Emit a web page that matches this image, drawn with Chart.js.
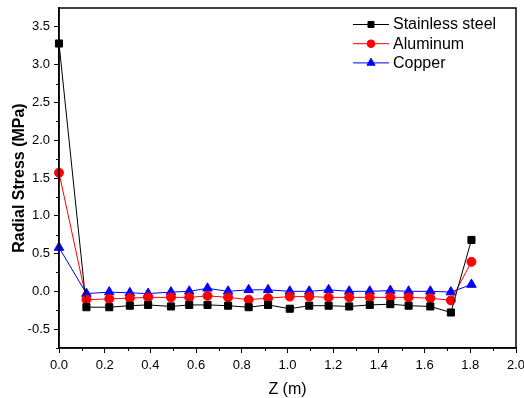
<!DOCTYPE html>
<html>
<head>
<meta charset="utf-8">
<script src="https://cdn.jsdelivr.net/npm/chart.js@4.4.1/dist/chart.umd.min.js"></script>
<style>
  html, body { margin: 0; padding: 0; background: #fff; }
</style>
</head>
<body>
<canvas id="mycanvas" width="524" height="398"></canvas>
<script>
// Z position along the part (m)
const zPos = [0, 0.12, 0.22, 0.31, 0.39, 0.49, 0.57, 0.65, 0.74, 0.83, 0.915, 1.01, 1.095, 1.18, 1.27, 1.36, 1.45, 1.53, 1.625, 1.715, 1.805];

// radial stress (MPa) for each material
const steel    = [3.28, -0.21, -0.21, -0.19, -0.18, -0.20, -0.18, -0.18, -0.19, -0.21, -0.18, -0.23, -0.19, -0.19, -0.20, -0.18, -0.17, -0.19, -0.20, -0.28, 0.68];
const aluminum = [1.57, -0.11, -0.10, -0.09, -0.08, -0.08, -0.08, -0.06, -0.08, -0.11, -0.09, -0.07, -0.07, -0.08, -0.08, -0.08, -0.08, -0.08, -0.09, -0.12, 0.39];
const copper   = [0.58, -0.03, -0.01, -0.02, -0.03, -0.01, 0.00, 0.04, 0.00, 0.02, 0.02, 0.00, 0.00, 0.02, 0.00, 0.00, 0.01, 0.00, 0.00, -0.01, 0.09];

const seriesNames = ['Stainless steel', 'Aluminum', 'Copper'];

const xTicks = [0, 0.2, 0.4, 0.6, 0.8, 1.0, 1.2, 1.4, 1.6, 1.8, 2.0];
const yTicks = [-0.5, 0, 0.5, 1.0, 1.5, 2.0, 2.5, 3.0, 3.5];

// minor ticks sit half way between the labelled ones
const xMinor = xTicks.slice(1).map((v, i) => (v + xTicks[i]) / 2);
const yMinor = [-0.75].concat(yTicks.slice(1).map((v, i) => (v + yTicks[i]) / 2));

Chart.defaults.font.family = '"Liberation Sans", Arial, sans-serif';
Chart.defaults.color = '#000';

function pts(ys) {
  return zPos.map((z, i) => ({x: z, y: ys[i]}));
}

// box round the plot, minor ticks and the legend in the top right corner
const framePlugin = {
  id: 'frame',
  afterDraw(chart) {
    const {ctx, chartArea: a, scales: {x, y}} = chart;
    ctx.save();
    ctx.strokeStyle = '#000';
    ctx.lineWidth = 1;
    ctx.beginPath();
    xMinor.forEach(v => {
      const px = Math.round(x.getPixelForValue(v)) + 0.5;
      ctx.moveTo(px, a.bottom);
      ctx.lineTo(px, a.bottom + 3);
    });
    yMinor.forEach(v => {
      const py = Math.round(y.getPixelForValue(v)) + 0.5;
      ctx.moveTo(a.left, py);
      ctx.lineTo(a.left - 3, py);
    });
    ctx.stroke();

    ctx.lineWidth = 1.5;
    ctx.strokeRect(a.left, a.top, a.right - a.left, a.bottom - a.top);

    const lx = a.right - 163;
    chart.data.datasets.forEach((ds, i) => {
      const cy = a.top + 16.5 + i * 19.2;
      ctx.strokeStyle = ds.borderColor;
      ctx.fillStyle = ds.backgroundColor;
      ctx.lineWidth = 1;
      ctx.beginPath();
      ctx.moveTo(lx, cy);
      ctx.lineTo(lx + 36, cy);
      ctx.stroke();
      Chart.helpers.drawPoint(ctx, {
        pointStyle: ds.pointStyle,
        radius: ds.pointRadius * 0.85,
        rotation: 0,
        borderWidth: 1
      }, lx + 18, cy);
      ctx.fillStyle = '#000';
      ctx.font = '16px "Liberation Sans", Arial, sans-serif';
      ctx.textBaseline = 'middle';
      ctx.textAlign = 'left';
      ctx.fillText(ds.label, lx + 40, cy + 0.5);
    });
    ctx.restore();
  }
};

const data = {
  datasets: [{
    label: seriesNames[0],
    data: pts(steel),
    borderColor: '#000000',
    backgroundColor: '#000000',
    pointStyle: 'rect',
    pointRadius: 5,
    pointHoverRadius: 5,
    borderWidth: 1,
    pointBorderWidth: 1
  }, {
    label: seriesNames[1],
    data: pts(aluminum),
    borderColor: '#ff0000',
    backgroundColor: '#ff0000',
    pointStyle: 'circle',
    pointRadius: 4.5,
    pointHoverRadius: 4.5,
    borderWidth: 1,
    pointBorderWidth: 1
  }, {
    label: seriesNames[2],
    data: pts(copper),
    borderColor: '#0000ff',
    backgroundColor: '#0000ff',
    pointStyle: 'triangle',
    pointRadius: 5.5,
    pointHoverRadius: 5.5,
    borderWidth: 1,
    pointBorderWidth: 1
  }]
};

const config = {
  type: 'line',
  data,
  plugins: [framePlugin],
  options: {
    responsive: false,
    animation: false,
    events: [],
    clip: false,
    layout: {padding: {top: 8, right: 8, left: 0, bottom: 0}},
    plugins: {legend: {display: false}, tooltip: {enabled: false}},
    elements: {line: {tension: 0}},
    scales: {
      x: {
        type: 'linear',
        min: 0,
        max: 2,
        afterBuildTicks: s => { s.ticks = xTicks.map(v => ({value: v})); },
        afterFit: s => { s.height = 50; s.paddingLeft = 0; s.paddingRight = 0; },
        ticks: {
          callback: v => v.toFixed(1),
          font: {size: 13},
          padding: 5,
          maxRotation: 0,
          autoSkip: false
        },
        grid: {drawOnChartArea: false, tickLength: 5, tickColor: '#000', tickWidth: 1},
        border: {color: '#000', width: 1.5},
        title: {display: true, text: 'Z (m)', font: {size: 16, lineHeight: 1}, padding: 0}
      },
      y: {
        min: -0.75,
        max: 3.75,
        afterBuildTicks: s => { s.ticks = yTicks.map(v => ({value: v})); },
        afterFit: s => { s.width = 59; s.paddingTop = 0; s.paddingBottom = 0; },
        ticks: {
          callback: v => v.toFixed(1),
          font: {size: 13},
          padding: 4
        },
        grid: {drawOnChartArea: false, tickLength: 5, tickColor: '#000', tickWidth: 1},
        border: {color: '#000', width: 1.5},
        title: {display: true, text: 'Radial Stress (MPa)', font: {size: 16, weight: 'bold', lineHeight: 1}, padding: {top: 12}}
      }
    }
  }
};

const myChart = new Chart(document.getElementById('mycanvas'), config);
</script>
</body>
</html>
